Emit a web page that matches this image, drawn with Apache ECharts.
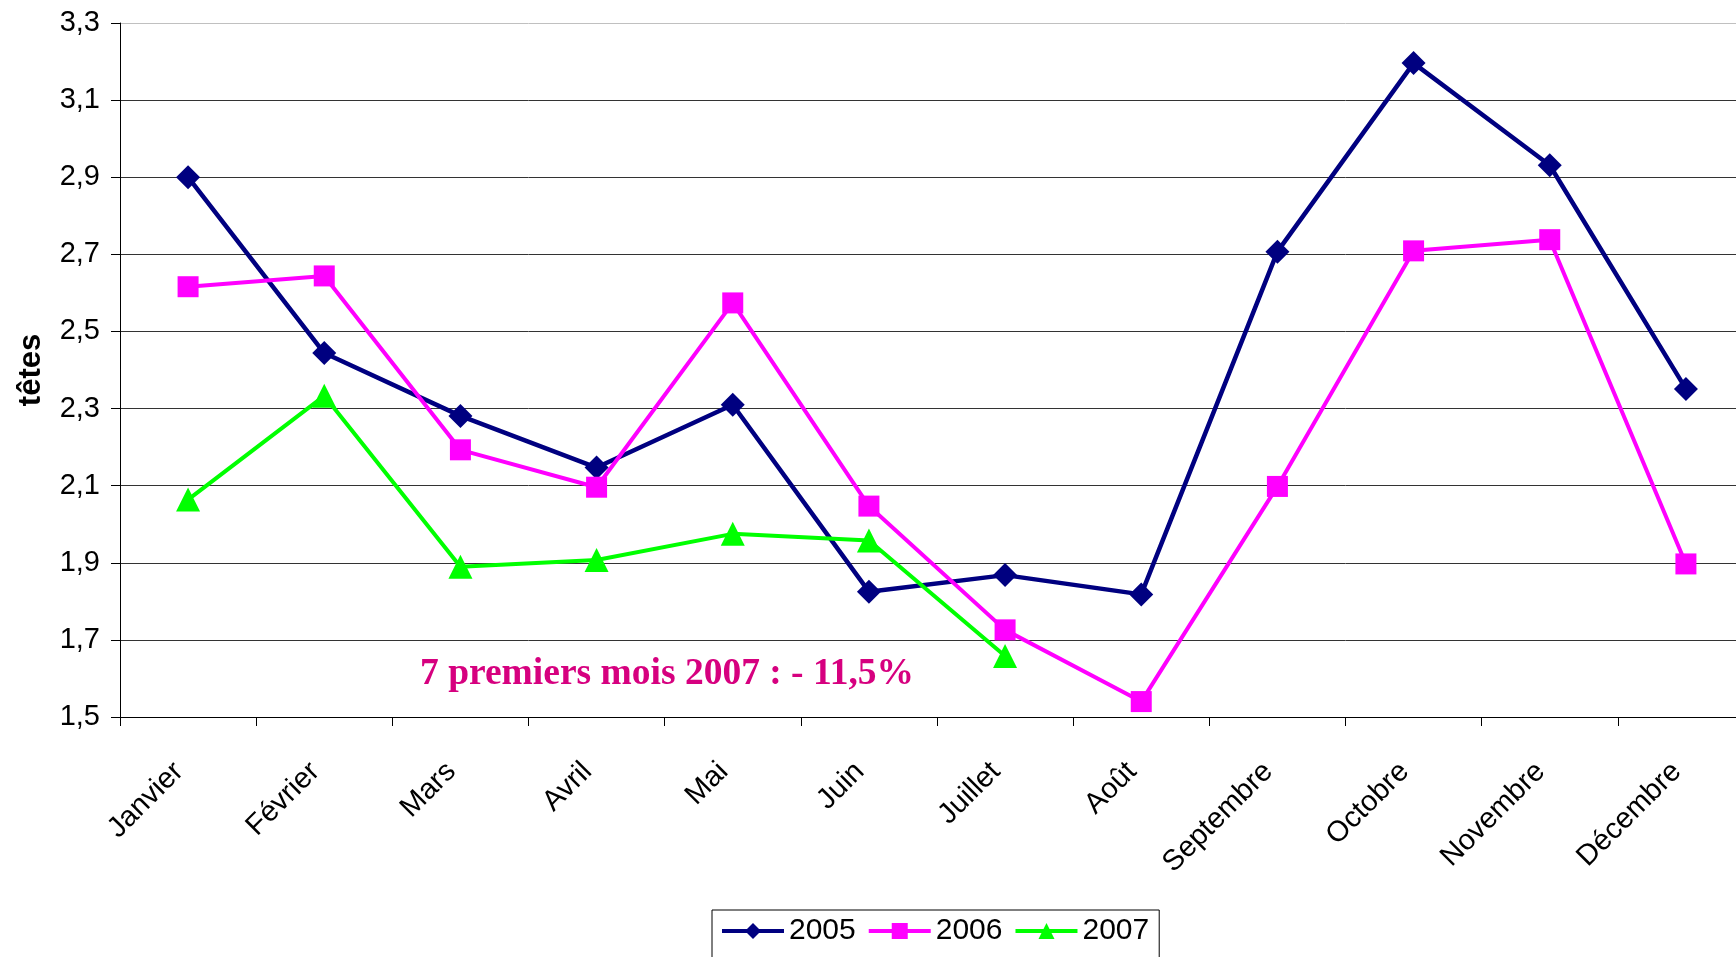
<!DOCTYPE html>
<html>
<head>
<meta charset="utf-8">
<script src="https://cdn.jsdelivr.net/npm/echarts@6/dist/echarts.min.js"></script>
<style>
html,body{margin:0;padding:0;background:#fff;overflow:hidden;width:1736px;height:957px;}
#chart{width:1770px;height:957px;}
</style>
</head>
<body>
<div id="chart"></div>
<script>
const months = ['Janvier','Février','Mars','Avril','Mai','Juin','Juillet','Août','Septembre','Octobre','Novembre','Décembre'];
const s2005 = [2.90, 2.444, 2.281, 2.147, 2.310, 1.825, 1.868, 1.818, 2.707, 3.196, 2.931, 2.351];
const s2006 = [2.616, 2.644, 2.193, 2.096, 2.574, 2.047, 1.726, 1.540, 2.098, 2.709, 2.738, 1.897];
const s2007 = [2.064, 2.333, 1.890, 1.907, 1.975, 1.958, 1.658];
const yTickLabels = ['1,5','1,7','1,9','2,1','2,3','2,5','2,7','2,9','3,1','3,3'];
const annotation = '7 premiers mois 2007 : - 11,5%';

const chart = echarts.init(document.getElementById('chart'));
const font = 'Arial, "Liberation Sans", sans-serif';
const gridColors = ['#333','#333','#333','#333','#333','#333','#333','#333','#333','#c0c0c0'];
chart.setOption({
  animation: false,
  backgroundColor: '#fff',
  grid: { left: 120, top: 23, width: 1634, bottom: 240, containLabel: false },
  legend: {
    left: 712, top: 910,
    data: ['2005','2006','2007'],
    itemWidth: 62, itemHeight: 20, itemGap: 11,
    borderColor: '#000', borderWidth: 1,
    padding: [6, 10, 40, 8],
    lineStyle: { width: 4 },
    textStyle: { fontFamily: font, fontSize: 30, color: '#000' }
  },
  xAxis: {
    type: 'category',
    data: months,
    boundaryGap: true,
    axisLine: { lineStyle: { color: '#000', width: 1 } },
    axisTick: { show: true, length: 9, lineStyle: { color: '#000' } },
    axisLabel: { rotate: 45, interval: 0, margin: 41, padding: [0, 13, 0, 0], fontFamily: font, fontSize: 29, color: '#000' }
  },
  yAxis: {
    type: 'value',
    min: 1.5, max: 3.3, interval: 0.2,
    name: 'têtes',
    nameLocation: 'middle',
    nameGap: 73,
    nameTextStyle: { fontFamily: font, fontSize: 31, fontWeight: 'bold', color: '#000' },
    axisLine: { show: true, lineStyle: { color: '#000', width: 1 } },
    axisTick: { show: true, length: 9, lineStyle: { color: '#000' } },
    splitLine: { show: true, lineStyle: { color: gridColors, width: 1 } },
    axisLabel: {
      margin: 20, fontFamily: font, fontSize: 29, color: '#000',
      formatter: function (v) {
        const idx = Math.round((v - 1.5) / 0.2);
        return yTickLabels[idx] !== undefined ? yTickLabels[idx] : v.toFixed(1).replace('.', ',');
      }
    }
  },
  series: [
    { name: '2005', type: 'line', data: s2005, symbol: 'diamond', symbolSize: 24,
      lineStyle: { color: '#000080', width: 4.5 }, itemStyle: { color: '#000080' } },
    { name: '2006', type: 'line', data: s2006, symbol: 'rect', symbolSize: 21,
      lineStyle: { color: '#ff00ff', width: 4 }, itemStyle: { color: '#ff00ff' } },
    { name: '2007', type: 'line', data: s2007, symbol: 'triangle', symbolSize: 24,
      lineStyle: { color: '#00ff00', width: 4 }, itemStyle: { color: '#00ff00' } }
  ],
  graphic: [{
    type: 'text', left: 420, top: 655, silent: true,
    style: { text: annotation, fill: '#d6007f', font: 'bold 37.5px "Liberation Serif", "Times New Roman", serif' }
  }]
});
</script>
</body>
</html>
